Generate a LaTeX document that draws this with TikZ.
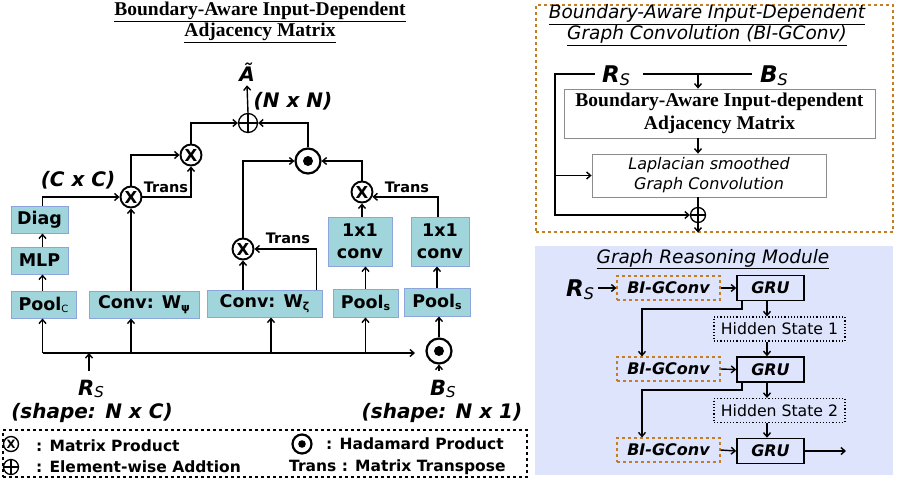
\documentclass[tikz,border=0pt]{standalone}
\usepackage{fontspec}
\setmainfont{DejaVu Sans}
\newfontfamily\serifbf{Liberation Serif}
\usetikzlibrary{arrows.meta}
\definecolor{boxfill}{RGB}{160,213,219}
\definecolor{boxedge}{RGB}{140,165,220}
\definecolor{dorange}{RGB}{195,125,35}
\definecolor{lav}{RGB}{221,228,251}
\definecolor{gedge}{RGB}{140,140,140}
\newcommand\fs[2]{\fontsize{#1}{#2}\selectfont}
\newcommand\RS[2]{{\bfseries\itshape\fs{#1}{#1}R\raisebox{-0.25ex}{\mdseries\fs{#2}{#2}S}}}
\newcommand\BS[2]{{\bfseries\itshape\fs{#1}{#1}B\raisebox{-0.25ex}{\mdseries\fs{#2}{#2}S}}}
\tikzset{
  ln/.style={line width=1.4pt},
  ar/.style={line width=1.4pt,-{Straight Barb[length=4pt,width=7pt]}},
  tbox/.style={draw=boxedge,fill=boxfill,line width=1pt,inner sep=0pt,align=center,font=\bfseries\fs{17.5}{22}},
  otim/.style={circle,draw,line width=1.9pt,minimum size=21pt,inner sep=0pt,font=\bfseries\fs{16.5}{16.5}},
  hada/.style={circle,draw,line width=2.2pt,minimum size=25pt,inner sep=0pt,path picture={\fill (path picture bounding box.center) circle (5pt);}},
  addn/.style={circle,draw,line width=1.3pt,minimum size=19pt,inner sep=0pt,path picture={\draw[line width=1.3pt] (path picture bounding box.north)--(path picture bounding box.south) (path picture bounding box.west)--(path picture bounding box.east);}},
  lbl/.style={inner sep=0pt,font=\bfseries\fs{14.5}{14.5}},
  dimlbl/.style={inner sep=0pt,font=\bfseries\itshape\fs{20}{20}},
  legtxt/.style={inner sep=0pt,anchor=west,font=\bfseries\fs{15.5}{16}},
  bgconv/.style={draw=dorange,dashed,line width=1.2pt,minimum width=103pt,minimum height=24pt,inner sep=0pt,font=\bfseries\itshape\fs{16}{16}},
  grubox/.style={draw,line width=1.6pt,minimum width=67pt,minimum height=25pt,inner sep=0pt,font=\bfseries\itshape\fs{16}{16}},
  hsbox/.style={draw,dotted,line width=1.2pt,minimum width=131pt,minimum height=24pt,inner sep=0pt,font=\fs{15.7}{16}},
}
\begin{document}
\begin{tikzpicture}[x=1pt,y=-1pt]
\useasboundingbox (0,0) rectangle (904,483);
% ---------------- left: title
\node[font=\serifbf\bfseries\fs{19.5}{21},align=center,inner sep=0] (ltitle) at (260,22) {\underline{Boundary-Aware Input-Dependent}\\\underline{Adjacency Matrix}};
% boxes
\node[tbox,minimum width=57pt,minimum height=27pt] (diag) at (39.5,219.5) {Diag};
\node[tbox,minimum width=57pt,minimum height=27pt] (mlp) at (39.5,260.5) {MLP};
\node[tbox,minimum width=65pt,minimum height=27pt] (poolc) at (43.5,304.5) {Pool\raisebox{-2pt}{\mdseries\fs{10}{10}C}};
\node[tbox,minimum width=110pt,minimum height=27pt] (cpsi) at (144,304.5) {Conv: W\raisebox{-3pt}{\fs{11}{11}ψ}};
\node[tbox,minimum width=115pt,minimum height=27pt] (czeta) at (264.5,303.5) {Conv: W\raisebox{-3pt}{\fs{11}{11}ζ}};
\node[tbox,minimum width=65pt,minimum height=28pt] (pools1) at (365.5,303) {Pool\raisebox{-2pt}{\fs{11}{11}s}};
\node[tbox,minimum width=66pt,minimum height=28pt] (pools2) at (437,302) {Pool\raisebox{-2pt}{\fs{11}{11}s}};
\node[tbox,minimum width=64pt,minimum height=49pt] (conv1) at (360,241.5) {1x1\\conv};
\node[tbox,minimum width=58pt,minimum height=49pt] (conv2) at (440,241.5) {1x1\\conv};
% operators
\node[addn] (plus) at (248,123) {};
\node[otim] (otU) at (191,155) {X};
\node[otim] (otL) at (131,197) {X};
\node[hada] (odT) at (308,161) {};
\node[otim] (otM) at (243,249) {X};
\node[otim] (otR) at (362,192) {X};
\node[hada] (odB) at (439,351) {};
% labels
\node[font=\bfseries\itshape\fs{20}{20},inner sep=0,outer sep=4pt] (atil) at (247,72) {Ã};
\node[dimlbl] (nn) at (293,101) {(N x N)};
\node[dimlbl] (cc) at (78,180) {(C x C)};
\node[lbl] (tr1) at (166,187) {Trans};
\node[lbl] (tr2) at (288,238) {Trans};
\node[lbl] (tr3) at (407,187) {Trans};
\node[inner sep=0] (rs) at (91,389) {\RS{21}{15}};
\node[dimlbl] (rsshape) at (92,413) {(shape: N x C)};
\node[inner sep=0] (bs) at (443,389) {\BS{21}{15}};
\node[dimlbl] (bsshape) at (442,413) {(shape: N x 1)};
% connectors
\coordinate (cA) at (42.5,0);
\draw[ar] (cA |- poolc.north) -- (cA |- mlp.south);
\draw[ar] (cA |- mlp.north) -- (cA |- diag.south);
\draw[ar] (cA |- diag.north) |- (otL.west);
\draw[ar] (otL.north) |- (otU.west);
\draw[ar] (otL.east) -| (otU.south);
\draw[ar] (otU.north) |- (plus.west);
\draw[ar] (odT.north) |- (plus.east);
\draw[ar] (plus.north) -- (atil.south);
\draw[ar] (otL.south |- cpsi.north) -- (otL.south);
\draw[ar] (otM.south |- czeta.north) -- (otM.south);
\coordinate (zr) at ([xshift=-6pt]czeta.north east);
\draw[ar] (zr) |- (otM.east);
\draw[ar] (otM.north) |- (odT.west);
\draw[ar] (otR.north) |- (odT.east);
\draw[ar] (otR.south |- conv1.north) -- (otR.south);
\coordinate (c2t) at ([xshift=-2pt]conv2.north);
\draw[ar] (c2t) |- (otR.-25);
\draw[ar] (pools1.north) -- (pools1.north |- conv1.south);
\draw[ar] (pools2.north) -- (pools2.north |- conv2.south);
\draw[ar] (odB.north) -- (odB.north |- pools2.south);
\coordinate (busL) at (42.5,353);
\coordinate (busR) at (415,353);
\draw[ar] (busL) -- (busR);
\draw[ar] (busL) -- (busL |- poolc.south);
\draw[ar] (otL.south |- busL) -- (otL.south |- cpsi.south);
\coordinate (zb) at ([xshift=6.5pt]czeta.south);
\draw[ar] (zb |- busL) -- (zb);
\draw[ar] (pools1.south |- busL) -- (pools1.south);
\coordinate (rsTop) at ([xshift=-2pt,yshift=9pt]rs.north);
\draw[ar] (rsTop) -- (rsTop |- busL);
\coordinate (bsTop) at ([yshift=9pt]bs.north);
\draw[ar] (odB.south |- bsTop) -- (odB.south);
% legend
\node[draw,dashed,line width=1.2pt,minimum width=524pt,minimum height=47pt,inner sep=0] (legend) at (265,453.5) {};
\node[otim,minimum size=15pt,line width=1.4pt,font=\bfseries\fs{11.5}{11.5}] (lgx) at (11,444) {X};
\node[legtxt] (lgxt) at (36,446) {: Matrix Product};
\node[addn,minimum size=15pt] (lgp) at (11,467) {};
\node[legtxt] (lgpt) at (36,467) {: Element-wise Addtion};
\node[hada,minimum size=19pt,path picture={\fill (path picture bounding box.center) circle (3.8pt);}] (lgd) at (302,444) {};
\node[legtxt] (lgdt) at (326,444) {: Hadamard Product};
\node[legtxt] (lgtt) at (289,467) {Trans : Matrix Transpose};
% ---------------- right top
\node[draw=dorange,dashed,line width=1.2pt,minimum width=357pt,minimum height=227pt,inner sep=0] (bifr) at (714.5,118.5) {};
\node[font=\itshape\fs{18.5}{21},align=center,inner sep=0] (rtitle) at (707,25) {\underline{Boundary-Aware Input-Dependent}\\\underline{Graph Convolution (BI-GConv)}};
\node[inner sep=0] (rs2) at (616,76) {\RS{23}{16}};
\node[inner sep=0] (bs2) at (774,76) {\BS{23}{16}};
\node[draw=gedge,line width=0.8pt,minimum width=311pt,minimum height=49pt,inner sep=0,align=center,font=\serifbf\bfseries\fs{19.5}{23}] (biam) at (719.5,113.5) {Boundary-Aware Input-dependent\\Adjacency Matrix};
\node[draw=gedge,line width=0.8pt,minimum width=234pt,minimum height=43pt,inner sep=0,align=center,font=\itshape\fs{16}{20}] (lap) at (709,175.5) {Laplacian smoothed\\Graph Convolution};
\node[addn,minimum size=15pt] (plus2) at (698,215) {};
\coordinate (rsl) at (595,74);
\coordinate (lcol) at (555,150);
\draw[ar] (rsl) -| (lcol) |- (plus2.west);
\draw[ar] (lcol |- lap.west) -- (lap.west);
\coordinate (ml) at (643,74);
\coordinate (mr) at (752,74);
\draw[ln] (ml) -- (mr);
\coordinate (cx) at (698,74);
\draw[ar] (cx) -- (cx |- biam.north);
\draw[ar] (cx |- biam.south) -- (cx |- lap.north);
\draw[ln] (cx |- lap.south) -- (plus2.north);
\draw[ar] (plus2.south) -- (plus2.south |- bifr.south);
% ---------------- right bottom
\node[fill=lav,minimum width=358pt,minimum height=229pt,inner sep=0] (grbg) at (714,360.5) {};
\node[font=\itshape\fs{18.5}{21},inner sep=0] (gtitle) at (713,259) {\underline{Graph Reasoning Module}};
\node[inner sep=0] (rs3) at (580,290) {\RS{23}{16}};
\node[bgconv] (bg1) at (668.5,288) {BI-GConv};
\node[bgconv] (bg2) at (668.5,369) {BI-GConv};
\node[bgconv] (bg3) at (668.5,450) {BI-GConv};
\node[grubox] (gru1) at (770.5,288) {GRU};
\node[grubox] (gru2) at (770.5,369.5) {GRU};
\node[grubox] (gru3) at (770.5,451) {GRU};
\node[hsbox] (hs1) at (779.5,329) {Hidden State 1};
\node[hsbox] (hs2) at (779.5,410.5) {Hidden State 2};
\coordinate (rs3r) at (598,288);
\draw[ar] (rs3r) -- (bg1.west);
\draw[ar] (bg1.east) -- (gru1.west);
\draw[ar] (bg2.east) -- (gru2.west);
\draw[ar] (bg3.east) -- (gru3.west);
\coordinate (hx) at (767,0);
\draw[ar] (hx |- gru1.south) -- (hx |- hs1.north);
\draw[ar] (hx |- hs1.south) -- (hx |- gru2.north);
\draw[ar] (hx |- gru2.south) -- (hx |- hs2.north);
\draw[ar] (hx |- hs2.south) -- (hx |- gru3.north);
\coordinate (gx) at (742,0);
\coordinate (k1) at (642,309);
\coordinate (k2) at (642,390);
\draw[ar] (gx |- gru1.south) |- (k1) -- (k1 |- bg2.north);
\draw[ar] (gx |- gru2.south) |- (k2) -- (k2 |- bg3.north);
\coordinate (out) at (846,451);
\draw[ar] (gru3.east) -- (out);
\end{tikzpicture}
\end{document}
